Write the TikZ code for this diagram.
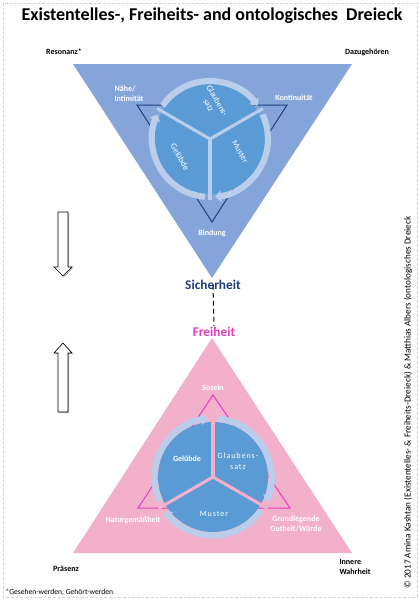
\documentclass[tikz,border=0pt]{standalone}
\usepackage{fontspec}
\setmainfont{Carlito}
\usetikzlibrary{arrows.meta}

\definecolor{triblue}{HTML}{85A5DA}
\definecolor{discblue}{HTML}{5B9BD5}
\definecolor{ringblue}{HTML}{BACDEB}
\definecolor{navyline}{HTML}{1F3C78}
\definecolor{tripink}{HTML}{F3B0CA}
\definecolor{freimag}{HTML}{E23DBE}

\tikzset{every picture/.style={line width=0.75pt}}
\tikzset{
  cornerlbl/.style={font=\fontsize{6}{7.5}\selectfont\bfseries, inner sep=0.75pt, align=left},
  innerlbl/.style={font=\fontsize{6}{7.4}\selectfont\bfseries, text=white, inner sep=0.75pt},
  sectorlbl/.style={font=\fontsize{6.3}{7.4}\selectfont, text=white, inner sep=0.5pt, align=center},
  ringarrow/.style={draw=ringblue, line width=4.6pt, -{Triangle[width=8.5pt,length=4.5pt]}},
  blockarrow/.style={draw=black, fill=white, line width=0.5pt},
}

\begin{document}
\begin{tikzpicture}[x=0.75pt,y=0.75pt,yscale=-1,xscale=1]
\useasboundingbox (0,0) rectangle (420,600);

%Shape: Rectangle [frame]
\draw [gray!35, line width=0.5pt, dash pattern=on 2pt off 1.5pt] (3,3) rectangle (417,597);

% Text Node
\draw (212,16) node [font=\fontsize{13.5}{16}\selectfont\bfseries] (title) {Existentelles-, Freiheits- and ontologisches\ \ Dreieck};

%Shape: Triangle [top]
\draw [draw=none, fill=triblue] (73,64) -- (352,64) -- (212,278) -- cycle ;
%Shape: Triangle [inner top]
\draw [navyline] (137,105) -- (287,105) -- (212,222) -- cycle ;

%Shape: Circle [top cycle]
\coordinate (ctop) at (210,139);
\fill [discblue] (ctop) circle [radius=55];
\foreach \a in {-30,-150,90} \draw [ringblue, line width=2.3pt] (ctop) -- ++(\a:61);
\foreach \s in {-145,-25,95} \draw [ringarrow] ([shift={(\s:58)}]ctop) arc [start angle=\s, end angle=\s+110, radius=58];

% Text Node
\draw (213,103) node [sectorlbl, rotate=-60] (glaubtop) {Glaubens-\\satz};
% Text Node
\draw (180,157) node [sectorlbl, rotate=-60] (gelubtop) {Gelübde};
% Text Node
\draw (240,152) node [sectorlbl, rotate=-60] (mustertop) {Muster};

% Text Node
\draw (129,94) node [innerlbl, align=left] (naehe) {Nähe/\\Intimität};
% Text Node
\draw (294,98) node [innerlbl] (kontin) {Kontinuität};
% Text Node
\draw (212,233) node [innerlbl] (bindung) {Bindung};
% Text Node
\draw (64,52) node [cornerlbl] (resonanz) {Resonanz*};
% Text Node
\draw (367,52) node [cornerlbl] (dazu) {Dazugehören};

% Text Node
\draw (213,285) node [font=\fontsize{10}{12}\selectfont\bfseries, text=navyline, inner sep=0.75pt] (sicher) {Sicherheit};
% Text Node
\draw (214,332) node [font=\fontsize{10}{12}\selectfont\bfseries, text=freimag, inner sep=0.75pt] (frei) {Freiheit};
%Straight Lines [dashed]
\draw [dash pattern=on 3.5pt off 2.5pt] (sicher.center) -- (frei.north) ;

%Shape: Triangle [bottom]
\draw [draw=none, fill=tripink] (73,553) -- (352,553) -- (212,338) -- cycle ;
%Shape: Triangle [inner bottom]
\draw [freimag] (213,395) -- (290,508) -- (138,508) -- cycle ;

%Shape: Circle [bottom cycle]
\coordinate (cbot) at (213,477);
\fill [discblue] (cbot) circle [radius=55];
\foreach \a in {-90,150,30} \draw [tripink, line width=2.3pt] (cbot) -- ++(\a:63);
\foreach \s in {155,-85,35} \draw [ringarrow] ([shift={(\s:58.5)}]cbot) arc [start angle=\s, end angle=\s+110, radius=58.5];

% Text Node
\draw (187,459) node [sectorlbl, font=\fontsize{6}{7.2}\selectfont\bfseries] (gelubbot) {Gelübde};
% Text Node
\draw (238,461) node [sectorlbl, font=\fontsize{6}{8}\selectfont\addfontfeature{LetterSpace=12}] (glaubbot) {Glaubens-\\satz};
% Text Node
\draw (214,514) node [sectorlbl, font=\fontsize{6}{7.2}\selectfont\addfontfeature{LetterSpace=12}] (musterbot) {Muster};

% Text Node
\draw (213,388) node [innerlbl] (sosein) {Sosein};
% Text Node
\draw (133,520) node [innerlbl] (naturg) {Naturgemäßheit};
% Text Node
\draw (296,524) node [innerlbl, align=center] (gutheit) {Grundlegende\\Gutheit/Würde};

% Text Node
\draw (66,569) node [cornerlbl] (praesenz) {Präsenz};
% Text Node
\draw (338,567) node [cornerlbl, anchor=west] (innere) {Innere\\Wahrheit};
% Text Node
\draw (4,592) node [anchor=west, inner sep=0.75pt, font=\fontsize{5.7}{7}\selectfont] (fussnote) {*Gesehen-werden, Gehört-werden};
% Text Node
\draw (408,590) node [anchor=west, rotate=90, inner sep=0.75pt, font=\fontsize{6.9}{8}\selectfont] (copyr) {© 2017 Amina Kashtan (Existentelles- \& Freiheits-Dreieck) \& Matthias Albers (ontologisches Dreieck};

%Shape: Down Arrow
\fill [gray!55] (59,213) -- (69,213) -- (69,268) -- (73,268) -- (64,277) -- (55,268) -- (59,268) -- cycle ;
\draw [blockarrow] (58,212) -- (68,212) -- (68,267) -- (72,267) -- (63,276) -- (54,267) -- (58,267) -- cycle ;
%Shape: Up Arrow
\fill [gray!55] (59,413) -- (69,413) -- (69,354) -- (73,354) -- (64,344) -- (55,354) -- (59,354) -- cycle ;
\draw [blockarrow] (58,412) -- (68,412) -- (68,353) -- (72,353) -- (63,343) -- (54,353) -- (58,353) -- cycle ;

\end{tikzpicture}
\end{document}
